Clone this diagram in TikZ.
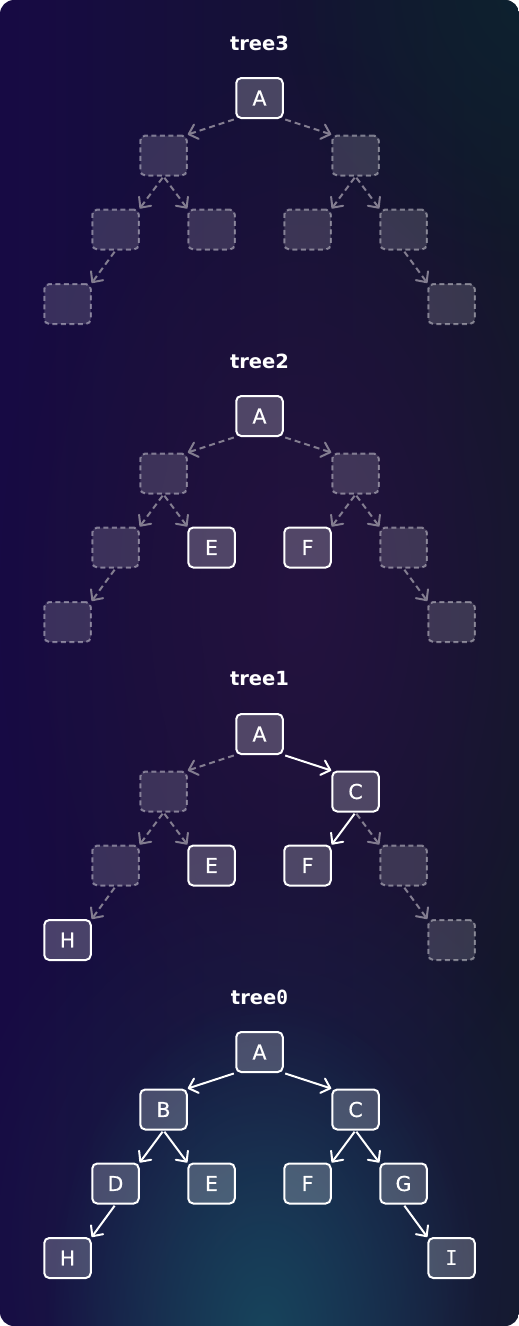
\documentclass[tikz,border=0pt]{standalone}
\usepackage{fontspec}
\setmainfont{DejaVu Sans}
\newfontfamily\nodefont[FakeBold=0.5]{DejaVu Sans}
\newfontfamily\monofont{DejaVu Sans Mono}
\usetikzlibrary{arrows.meta,fadings}
\definecolor{bgL}{HTML}{170A44}
\definecolor{bgR}{HTML}{131829}
\definecolor{plum}{HTML}{24123F}
\definecolor{tealglow}{HTML}{17445C}
\definecolor{navyglow}{HTML}{1B2148}
\definecolor{tealtop}{HTML}{0D2230}
\definecolor{edgegrey}{HTML}{837D90}
\tikzfading[name=glowfade, inner color=transparent!0, outer color=transparent!100]
\newcommand\treebody[3]{%
  \node[title] (#1T) at (259.5,43+#2) {#3};
  \node (#1A) at (259.5,98+#2) [nA=A];
  \node (#1B) at (163.5,155.5+#2) [nB=B];
  \node (#1C) at (355.5,155.5+#2) [nC=C];
  \node (#1D) at (115.5,229.5+#2) [nD=D];
  \node (#1E) at (211.5,229.5+#2) [nE=E];
  \node (#1F) at (307.5,229.5+#2) [nF=F];
  \node (#1G) at (403.5,229.5+#2) [nG=G];
  \node (#1H) at (67.5,304+#2) [nH=H];
  \node (#1I) at (451.5,304+#2) [nI={\monofont I}];
  \draw[eAB] (#1A.south west) -- (#1B.north east);
  \draw[eAC] (#1A.south east) -- (#1C.north west);
  \draw[eBD] (#1B.south) -- (#1D.north east);
  \draw[eBE] (#1B.south) -- (#1E.north west);
  \draw[eCF] (#1C.south) -- (#1F.north east);
  \draw[eCG] (#1C.south) -- (#1G.north west);
  \draw[eDH] (#1D.south) -- (#1H.north east);
  \draw[eGI] (#1G.south) -- (#1I.north west);
}
\begin{document}
\begin{tikzpicture}[x=1pt,y=-1pt,
  title/.style={font=\bfseries\fontsize{19.5}{19.5}\selectfont, text=white, inner sep=0pt},
  box/.style={rectangle, rounded corners=5pt, minimum width=46.5pt, minimum height=40pt,
    inner sep=0pt, font=\nodefont\fontsize{20.5}{20.5}\selectfont, text=white, line width=2pt},
  real/.style={box, draw=white, fill=white, fill opacity=0.22, text opacity=1},
  ghost/.style={box, draw=white, draw opacity=0.42, dash pattern=on 5pt off 3.5pt,
    fill=white, fill opacity=0.15},
  realN/.style={real, node contents={#1}},
  ghostN/.style={ghost, node contents={}},
  tip/.style={-{Straight Barb[length=8pt,width=15pt,round]}},
  sedge/.style={draw=white, line width=2pt, shorten <=1.5pt, tip},
  gedge/.style={draw=edgegrey, line width=2pt, dash pattern=on 6pt off 4pt, shorten <=1.5pt, tip}]
\useasboundingbox (0,0) rectangle (519,1326);
\fill[white] (0,0) rectangle (519,1326);
\begin{scope}
  \clip[rounded corners=14pt] (0,0) rectangle (519,1326);
  \shade[left color=bgL, right color=bgR] (0,0) rectangle (519,1326);
  \fill[plum, path fading=glowfade] (300,600) ellipse (300 and 560);
  \fill[tealtop, path fading=glowfade] (540,-20) ellipse (260 and 300);
  \fill[navyglow, path fading=glowfade] (270,1250) ellipse (330 and 420);
  \fill[tealglow, path fading=glowfade] (265,1330) ellipse (220 and 330);
\end{scope}
% tree3
\begin{scope}[nA/.style={realN=#1}, nB/.style={ghostN}, nC/.style={ghostN},
  nD/.style={ghostN}, nE/.style={ghostN}, nF/.style={ghostN}, nG/.style={ghostN},
  nH/.style={ghostN}, nI/.style={ghostN},
  eAB/.style={gedge}, eAC/.style={gedge}, eBD/.style={gedge}, eBE/.style={gedge},
  eCF/.style={gedge}, eCG/.style={gedge}, eDH/.style={gedge}, eGI/.style={gedge}]
  \treebody{t3}{0}{tree3}
\end{scope}
% tree2
\begin{scope}[nA/.style={realN=#1}, nB/.style={ghostN}, nC/.style={ghostN},
  nD/.style={ghostN}, nE/.style={realN=#1}, nF/.style={realN=#1}, nG/.style={ghostN},
  nH/.style={ghostN}, nI/.style={ghostN},
  eAB/.style={gedge}, eAC/.style={gedge}, eBD/.style={gedge}, eBE/.style={gedge},
  eCF/.style={gedge}, eCG/.style={gedge}, eDH/.style={gedge}, eGI/.style={gedge}]
  \treebody{t2}{318}{tree2}
\end{scope}
% tree1
\begin{scope}[nA/.style={realN=#1}, nB/.style={ghostN}, nC/.style={realN=#1},
  nD/.style={ghostN}, nE/.style={realN=#1}, nF/.style={realN=#1}, nG/.style={ghostN},
  nH/.style={realN=#1}, nI/.style={ghostN},
  eAB/.style={gedge}, eAC/.style={sedge}, eBD/.style={gedge}, eBE/.style={gedge},
  eCF/.style={sedge}, eCG/.style={gedge}, eDH/.style={gedge}, eGI/.style={gedge}]
  \treebody{t1}{636}{tree1}
\end{scope}
% tree0
\begin{scope}[nA/.style={realN=#1}, nB/.style={realN=#1}, nC/.style={realN=#1},
  nD/.style={realN=#1}, nE/.style={realN=#1}, nF/.style={realN=#1}, nG/.style={realN=#1},
  nH/.style={realN=#1}, nI/.style={realN=#1},
  eAB/.style={sedge}, eAC/.style={sedge}, eBD/.style={sedge}, eBE/.style={sedge},
  eCF/.style={sedge}, eCG/.style={sedge}, eDH/.style={sedge}, eGI/.style={sedge}]
  \treebody{t0}{954}{tree{\monofont\bfseries 0}}
\end{scope}
\end{tikzpicture}
\end{document}
